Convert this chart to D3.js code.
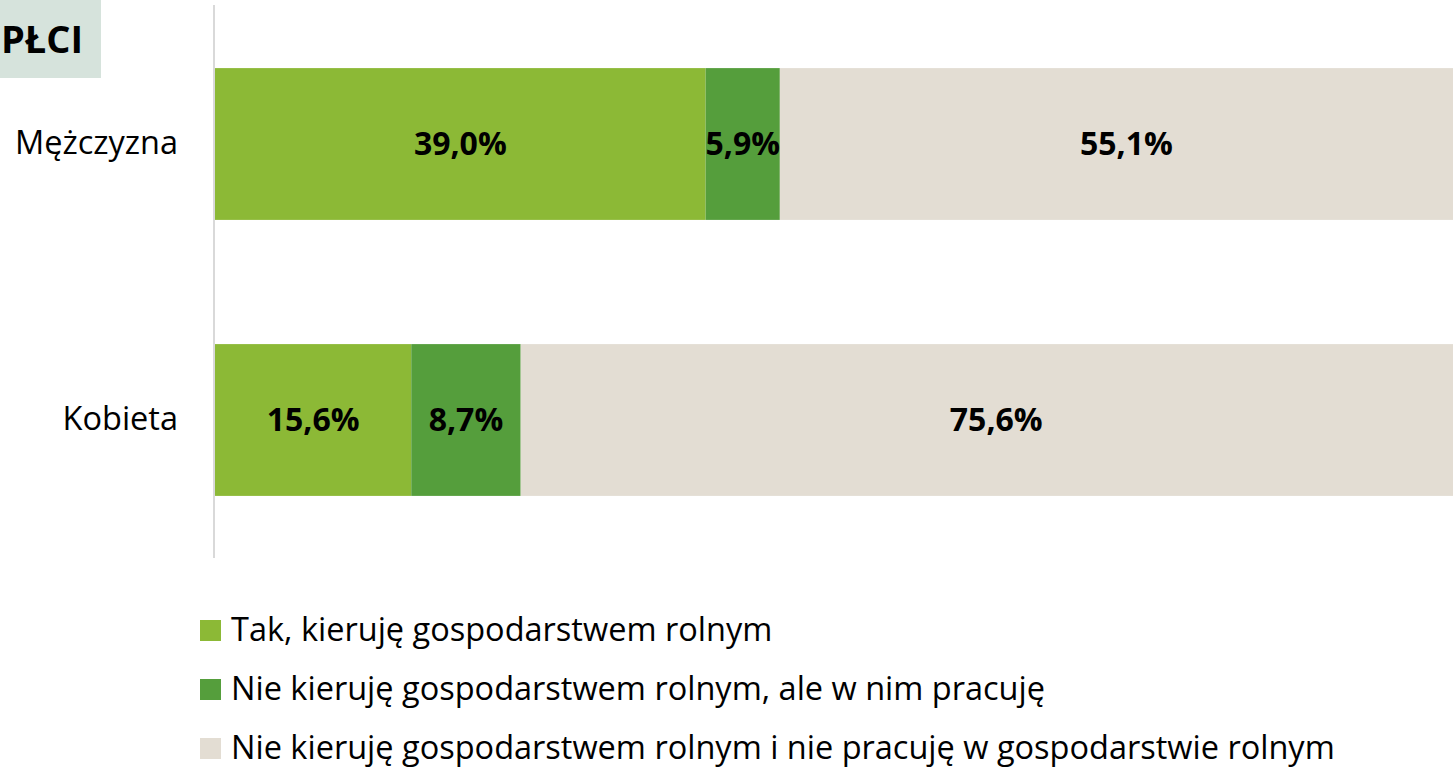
<!DOCTYPE html>
<html><head><meta charset="utf-8">
<script src="https://cdn.jsdelivr.net/npm/d3@7"></script>
<style>html,body{margin:0;padding:0;background:#fff;overflow:hidden}</style>
</head><body>
<svg id="c" width="1453" height="768"></svg>
<script>
const categories = ["Mężczyzna", "Kobieta"];
const seriesNames = ["Tak, kieruję gospodarstwem rolnym", "Nie kieruję gospodarstwem rolnym, ale w nim pracuję", "Nie kieruję gospodarstwem rolnym i nie pracuję w gospodarstwie rolnym"];
const tak = [39.0, 15.6];
const niePracuje = [5.9, 8.7];
const nieNie = [55.1, 75.6];
const colors = ["#8cb936", "#559e3c", "#e3ddd3"];
const title = "PŁCI";

const FONT = "'Open Sans', sans-serif";
const svg = d3.select("#c");
const series = [tak, niePracuje, nieNie];
const rows = categories.map((c, i) => {
  const o = {cat: c};
  seriesNames.forEach((s, k) => o[s] = series[k][i]);
  return o;
});
const stack = d3.stack().keys(seriesNames)(rows);

const x = d3.scaleLinear().domain([0, 100]).range([215, 1473]);
const y = d3.scaleBand().domain(categories).range([6, 558]).paddingInner(0.45).paddingOuter(0.225);

// title box
svg.append("rect").attr("x", 0).attr("y", 0).attr("width", 101).attr("height", 78).attr("fill", "#d6e3dc");
svg.append("text").attr("x", 1).attr("y", 53).attr("text-anchor", "start")
  .attr("font-family", FONT).attr("font-weight", "bold").attr("font-size", 38).attr("fill", "#000").text(title);

const g = svg.append("g");
stack.forEach((layer, k) => {
  g.selectAll(null).data(layer).enter().append("rect")
    .attr("x", d => x(d[0])).attr("width", d => x(d[1]) - x(d[0]))
    .attr("y", (d, i) => y(categories[i])).attr("height", y.bandwidth())
    .attr("fill", colors[k]);
  g.selectAll(null).data(layer).enter().append("text")
    .attr("x", d => (x(d[0]) + x(d[1])) / 2)
    .attr("y", (d, i) => y(categories[i]) + y.bandwidth() / 2)
    .attr("dy", "0.35em").attr("text-anchor", "middle")
    .attr("font-family", FONT).attr("font-weight", "bold").attr("font-size", 32).attr("fill", "#000")
    .text(d => (d[1] - d[0]).toFixed(1).replace(".", ",") + "%");
});

// axis
const yAxis = d3.axisLeft(y).tickSize(0).tickPadding(36);
const ag = svg.append("g").attr("transform", "translate(214,0)").call(yAxis);
ag.select(".domain").attr("stroke", "#d9d9d9").attr("stroke-width", 2).attr("d", "M0,5V558");
ag.selectAll("text").attr("font-family", FONT).attr("font-size", 32.5).attr("fill", "#000");

// legend
const lg = svg.append("g");
seriesNames.forEach((s, k) => {
  const cy = 630 + k * 59;
  lg.append("rect").attr("x", 200).attr("y", cy - 10).attr("width", 21).attr("height", 21).attr("fill", colors[k]);
  lg.append("text").attr("x", 231).attr("y", cy).attr("dy", "0.35em")
    .attr("font-family", FONT).attr("font-size", 32.5).attr("fill", "#000").text(s);
});
</script>
</body></html>
